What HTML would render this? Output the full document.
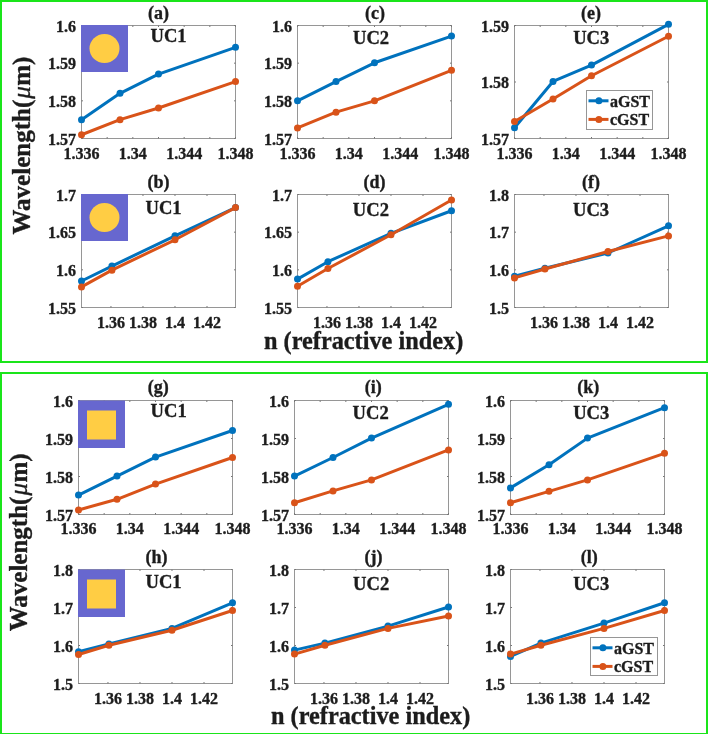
<!DOCTYPE html>
<html><head><meta charset="utf-8"><style>
html,body{margin:0;padding:0;background:#fff;width:708px;height:734px;overflow:hidden}
svg{display:block;will-change:transform;filter:blur(0.3px)}
text{font-family:"Liberation Serif", serif;font-weight:bold;fill:#1c1c1c;stroke:#1c1c1c;stroke-width:0.35px}
</style></head><body>
<svg width="708" height="734" viewBox="0 0 708 734">
<rect width="708" height="734" fill="#fff"/>
<rect x="81.5" y="25.5" width="154.0" height="113.0" fill="none" stroke="#969696" stroke-width="1"/>
<line x1="81.50" y1="138.5" x2="81.50" y2="137.0" stroke="#777" stroke-width="1"/>
<line x1="81.50" y1="25.5" x2="81.50" y2="27.0" stroke="#777" stroke-width="1"/>
<line x1="107.17" y1="138.5" x2="107.17" y2="137.0" stroke="#777" stroke-width="1"/>
<line x1="107.17" y1="25.5" x2="107.17" y2="27.0" stroke="#777" stroke-width="1"/>
<line x1="132.83" y1="138.5" x2="132.83" y2="137.0" stroke="#777" stroke-width="1"/>
<line x1="132.83" y1="25.5" x2="132.83" y2="27.0" stroke="#777" stroke-width="1"/>
<line x1="158.50" y1="138.5" x2="158.50" y2="137.0" stroke="#777" stroke-width="1"/>
<line x1="158.50" y1="25.5" x2="158.50" y2="27.0" stroke="#777" stroke-width="1"/>
<line x1="184.17" y1="138.5" x2="184.17" y2="137.0" stroke="#777" stroke-width="1"/>
<line x1="184.17" y1="25.5" x2="184.17" y2="27.0" stroke="#777" stroke-width="1"/>
<line x1="209.83" y1="138.5" x2="209.83" y2="137.0" stroke="#777" stroke-width="1"/>
<line x1="209.83" y1="25.5" x2="209.83" y2="27.0" stroke="#777" stroke-width="1"/>
<line x1="235.50" y1="138.5" x2="235.50" y2="137.0" stroke="#777" stroke-width="1"/>
<line x1="235.50" y1="25.5" x2="235.50" y2="27.0" stroke="#777" stroke-width="1"/>
<line x1="81.5" y1="138.50" x2="83.0" y2="138.50" stroke="#777" stroke-width="1"/>
<line x1="235.5" y1="138.50" x2="234.0" y2="138.50" stroke="#777" stroke-width="1"/>
<line x1="81.5" y1="100.83" x2="83.0" y2="100.83" stroke="#777" stroke-width="1"/>
<line x1="235.5" y1="100.83" x2="234.0" y2="100.83" stroke="#777" stroke-width="1"/>
<line x1="81.5" y1="63.17" x2="83.0" y2="63.17" stroke="#777" stroke-width="1"/>
<line x1="235.5" y1="63.17" x2="234.0" y2="63.17" stroke="#777" stroke-width="1"/>
<line x1="81.5" y1="25.50" x2="83.0" y2="25.50" stroke="#777" stroke-width="1"/>
<line x1="235.5" y1="25.50" x2="234.0" y2="25.50" stroke="#777" stroke-width="1"/>
<rect x="81.0" y="25.0" width="47" height="47" fill="#6767cf"/>
<ellipse cx="104.5" cy="48.5" rx="15" ry="14.5" fill="#ffcd44"/>
<text x="81.50" y="159.00" font-size="16" text-anchor="middle" >1.336</text>
<text x="132.83" y="159.00" font-size="16" text-anchor="middle" >1.34</text>
<text x="184.17" y="159.00" font-size="16" text-anchor="middle" >1.344</text>
<text x="235.50" y="159.00" font-size="16" text-anchor="middle" >1.348</text>
<text x="76.00" y="144.80" font-size="16" text-anchor="end" >1.57</text>
<text x="76.00" y="107.13" font-size="16" text-anchor="end" >1.58</text>
<text x="76.00" y="69.47" font-size="16" text-anchor="end" >1.59</text>
<text x="76.00" y="31.80" font-size="16" text-anchor="end" >1.6</text>
<polyline points="81.50,119.67 120.00,93.30 158.50,74.09 235.50,47.35" fill="none" stroke="#0072bd" stroke-width="3" stroke-linejoin="round"/>
<circle cx="81.50" cy="119.67" r="3.5" fill="#0072bd"/>
<circle cx="120.00" cy="93.30" r="3.5" fill="#0072bd"/>
<circle cx="158.50" cy="74.09" r="3.5" fill="#0072bd"/>
<circle cx="235.50" cy="47.35" r="3.5" fill="#0072bd"/>
<polyline points="81.50,134.73 120.00,119.67 158.50,107.99 235.50,81.62" fill="none" stroke="#d95319" stroke-width="3" stroke-linejoin="round"/>
<circle cx="81.50" cy="134.73" r="3.5" fill="#d95319"/>
<circle cx="120.00" cy="119.67" r="3.5" fill="#d95319"/>
<circle cx="158.50" cy="107.99" r="3.5" fill="#d95319"/>
<circle cx="235.50" cy="81.62" r="3.5" fill="#d95319"/>
<text x="158.50" y="18.80" font-size="18" text-anchor="middle" >(a)</text>
<text x="150.50" y="42.20" font-size="18.6" text-anchor="start" >UC1</text>
<rect x="81.5" y="194.5" width="154.0" height="113.0" fill="none" stroke="#969696" stroke-width="1"/>
<line x1="110.96" y1="307.5" x2="110.96" y2="306.0" stroke="#777" stroke-width="1"/>
<line x1="110.96" y1="194.5" x2="110.96" y2="196.0" stroke="#777" stroke-width="1"/>
<line x1="142.97" y1="307.5" x2="142.97" y2="306.0" stroke="#777" stroke-width="1"/>
<line x1="142.97" y1="194.5" x2="142.97" y2="196.0" stroke="#777" stroke-width="1"/>
<line x1="174.99" y1="307.5" x2="174.99" y2="306.0" stroke="#777" stroke-width="1"/>
<line x1="174.99" y1="194.5" x2="174.99" y2="196.0" stroke="#777" stroke-width="1"/>
<line x1="207.01" y1="307.5" x2="207.01" y2="306.0" stroke="#777" stroke-width="1"/>
<line x1="207.01" y1="194.5" x2="207.01" y2="196.0" stroke="#777" stroke-width="1"/>
<line x1="81.5" y1="307.50" x2="83.0" y2="307.50" stroke="#777" stroke-width="1"/>
<line x1="235.5" y1="307.50" x2="234.0" y2="307.50" stroke="#777" stroke-width="1"/>
<line x1="81.5" y1="269.83" x2="83.0" y2="269.83" stroke="#777" stroke-width="1"/>
<line x1="235.5" y1="269.83" x2="234.0" y2="269.83" stroke="#777" stroke-width="1"/>
<line x1="81.5" y1="232.17" x2="83.0" y2="232.17" stroke="#777" stroke-width="1"/>
<line x1="235.5" y1="232.17" x2="234.0" y2="232.17" stroke="#777" stroke-width="1"/>
<line x1="81.5" y1="194.50" x2="83.0" y2="194.50" stroke="#777" stroke-width="1"/>
<line x1="235.5" y1="194.50" x2="234.0" y2="194.50" stroke="#777" stroke-width="1"/>
<rect x="81.0" y="194.0" width="47" height="47" fill="#6767cf"/>
<ellipse cx="104.5" cy="217.5" rx="15" ry="14.5" fill="#ffcd44"/>
<text x="110.96" y="328.00" font-size="16" text-anchor="middle" >1.36</text>
<text x="142.97" y="328.00" font-size="16" text-anchor="middle" >1.38</text>
<text x="174.99" y="328.00" font-size="16" text-anchor="middle" >1.4</text>
<text x="207.01" y="328.00" font-size="16" text-anchor="middle" >1.42</text>
<text x="76.00" y="313.80" font-size="16" text-anchor="end" >1.55</text>
<text x="76.00" y="276.13" font-size="16" text-anchor="end" >1.6</text>
<text x="76.00" y="238.47" font-size="16" text-anchor="end" >1.65</text>
<text x="76.00" y="200.80" font-size="16" text-anchor="end" >1.7</text>
<polyline points="81.50,280.98 111.92,266.07 174.99,235.78 235.50,207.61" fill="none" stroke="#0072bd" stroke-width="3" stroke-linejoin="round"/>
<circle cx="81.50" cy="280.98" r="3.5" fill="#0072bd"/>
<circle cx="111.92" cy="266.07" r="3.5" fill="#0072bd"/>
<circle cx="174.99" cy="235.78" r="3.5" fill="#0072bd"/>
<circle cx="235.50" cy="207.61" r="3.5" fill="#0072bd"/>
<polyline points="81.50,286.93 111.92,270.13 174.99,239.78 235.50,207.61" fill="none" stroke="#d95319" stroke-width="3" stroke-linejoin="round"/>
<circle cx="81.50" cy="286.93" r="3.5" fill="#d95319"/>
<circle cx="111.92" cy="270.13" r="3.5" fill="#d95319"/>
<circle cx="174.99" cy="239.78" r="3.5" fill="#d95319"/>
<circle cx="235.50" cy="207.61" r="3.5" fill="#d95319"/>
<text x="158.50" y="188.30" font-size="18" text-anchor="middle" >(b)</text>
<text x="145.50" y="214.20" font-size="18.6" text-anchor="start" >UC1</text>
<rect x="297.5" y="25.5" width="154.0" height="113.0" fill="none" stroke="#969696" stroke-width="1"/>
<line x1="297.50" y1="138.5" x2="297.50" y2="137.0" stroke="#777" stroke-width="1"/>
<line x1="297.50" y1="25.5" x2="297.50" y2="27.0" stroke="#777" stroke-width="1"/>
<line x1="323.17" y1="138.5" x2="323.17" y2="137.0" stroke="#777" stroke-width="1"/>
<line x1="323.17" y1="25.5" x2="323.17" y2="27.0" stroke="#777" stroke-width="1"/>
<line x1="348.83" y1="138.5" x2="348.83" y2="137.0" stroke="#777" stroke-width="1"/>
<line x1="348.83" y1="25.5" x2="348.83" y2="27.0" stroke="#777" stroke-width="1"/>
<line x1="374.50" y1="138.5" x2="374.50" y2="137.0" stroke="#777" stroke-width="1"/>
<line x1="374.50" y1="25.5" x2="374.50" y2="27.0" stroke="#777" stroke-width="1"/>
<line x1="400.17" y1="138.5" x2="400.17" y2="137.0" stroke="#777" stroke-width="1"/>
<line x1="400.17" y1="25.5" x2="400.17" y2="27.0" stroke="#777" stroke-width="1"/>
<line x1="425.83" y1="138.5" x2="425.83" y2="137.0" stroke="#777" stroke-width="1"/>
<line x1="425.83" y1="25.5" x2="425.83" y2="27.0" stroke="#777" stroke-width="1"/>
<line x1="451.50" y1="138.5" x2="451.50" y2="137.0" stroke="#777" stroke-width="1"/>
<line x1="451.50" y1="25.5" x2="451.50" y2="27.0" stroke="#777" stroke-width="1"/>
<line x1="297.5" y1="138.50" x2="299.0" y2="138.50" stroke="#777" stroke-width="1"/>
<line x1="451.5" y1="138.50" x2="450.0" y2="138.50" stroke="#777" stroke-width="1"/>
<line x1="297.5" y1="100.83" x2="299.0" y2="100.83" stroke="#777" stroke-width="1"/>
<line x1="451.5" y1="100.83" x2="450.0" y2="100.83" stroke="#777" stroke-width="1"/>
<line x1="297.5" y1="63.17" x2="299.0" y2="63.17" stroke="#777" stroke-width="1"/>
<line x1="451.5" y1="63.17" x2="450.0" y2="63.17" stroke="#777" stroke-width="1"/>
<line x1="297.5" y1="25.50" x2="299.0" y2="25.50" stroke="#777" stroke-width="1"/>
<line x1="451.5" y1="25.50" x2="450.0" y2="25.50" stroke="#777" stroke-width="1"/>
<text x="297.50" y="159.00" font-size="16" text-anchor="middle" >1.336</text>
<text x="348.83" y="159.00" font-size="16" text-anchor="middle" >1.34</text>
<text x="400.17" y="159.00" font-size="16" text-anchor="middle" >1.344</text>
<text x="451.50" y="159.00" font-size="16" text-anchor="middle" >1.348</text>
<text x="292.00" y="144.80" font-size="16" text-anchor="end" >1.57</text>
<text x="292.00" y="107.13" font-size="16" text-anchor="end" >1.58</text>
<text x="292.00" y="69.47" font-size="16" text-anchor="end" >1.59</text>
<text x="292.00" y="31.80" font-size="16" text-anchor="end" >1.6</text>
<polyline points="297.50,100.83 336.00,81.62 374.50,62.79 451.50,36.05" fill="none" stroke="#0072bd" stroke-width="3" stroke-linejoin="round"/>
<circle cx="297.50" cy="100.83" r="3.5" fill="#0072bd"/>
<circle cx="336.00" cy="81.62" r="3.5" fill="#0072bd"/>
<circle cx="374.50" cy="62.79" r="3.5" fill="#0072bd"/>
<circle cx="451.50" cy="36.05" r="3.5" fill="#0072bd"/>
<polyline points="297.50,127.95 336.00,112.13 374.50,100.83 451.50,70.32" fill="none" stroke="#d95319" stroke-width="3" stroke-linejoin="round"/>
<circle cx="297.50" cy="127.95" r="3.5" fill="#d95319"/>
<circle cx="336.00" cy="112.13" r="3.5" fill="#d95319"/>
<circle cx="374.50" cy="100.83" r="3.5" fill="#d95319"/>
<circle cx="451.50" cy="70.32" r="3.5" fill="#d95319"/>
<text x="375.00" y="18.80" font-size="18" text-anchor="middle" >(c)</text>
<text x="353.00" y="44.20" font-size="18.6" text-anchor="start" >UC2</text>
<rect x="297.5" y="194.5" width="154.0" height="113.0" fill="none" stroke="#969696" stroke-width="1"/>
<line x1="326.96" y1="307.5" x2="326.96" y2="306.0" stroke="#777" stroke-width="1"/>
<line x1="326.96" y1="194.5" x2="326.96" y2="196.0" stroke="#777" stroke-width="1"/>
<line x1="358.97" y1="307.5" x2="358.97" y2="306.0" stroke="#777" stroke-width="1"/>
<line x1="358.97" y1="194.5" x2="358.97" y2="196.0" stroke="#777" stroke-width="1"/>
<line x1="390.99" y1="307.5" x2="390.99" y2="306.0" stroke="#777" stroke-width="1"/>
<line x1="390.99" y1="194.5" x2="390.99" y2="196.0" stroke="#777" stroke-width="1"/>
<line x1="423.01" y1="307.5" x2="423.01" y2="306.0" stroke="#777" stroke-width="1"/>
<line x1="423.01" y1="194.5" x2="423.01" y2="196.0" stroke="#777" stroke-width="1"/>
<line x1="297.5" y1="307.50" x2="299.0" y2="307.50" stroke="#777" stroke-width="1"/>
<line x1="451.5" y1="307.50" x2="450.0" y2="307.50" stroke="#777" stroke-width="1"/>
<line x1="297.5" y1="269.83" x2="299.0" y2="269.83" stroke="#777" stroke-width="1"/>
<line x1="451.5" y1="269.83" x2="450.0" y2="269.83" stroke="#777" stroke-width="1"/>
<line x1="297.5" y1="232.17" x2="299.0" y2="232.17" stroke="#777" stroke-width="1"/>
<line x1="451.5" y1="232.17" x2="450.0" y2="232.17" stroke="#777" stroke-width="1"/>
<line x1="297.5" y1="194.50" x2="299.0" y2="194.50" stroke="#777" stroke-width="1"/>
<line x1="451.5" y1="194.50" x2="450.0" y2="194.50" stroke="#777" stroke-width="1"/>
<text x="326.96" y="328.00" font-size="16" text-anchor="middle" >1.36</text>
<text x="358.97" y="328.00" font-size="16" text-anchor="middle" >1.38</text>
<text x="390.99" y="328.00" font-size="16" text-anchor="middle" >1.4</text>
<text x="423.01" y="328.00" font-size="16" text-anchor="middle" >1.42</text>
<text x="292.00" y="313.80" font-size="16" text-anchor="end" >1.55</text>
<text x="292.00" y="276.13" font-size="16" text-anchor="end" >1.6</text>
<text x="292.00" y="238.47" font-size="16" text-anchor="end" >1.65</text>
<text x="292.00" y="200.80" font-size="16" text-anchor="end" >1.7</text>
<polyline points="297.50,279.10 327.92,261.70 390.99,233.37 451.50,210.77" fill="none" stroke="#0072bd" stroke-width="3" stroke-linejoin="round"/>
<circle cx="297.50" cy="279.10" r="3.5" fill="#0072bd"/>
<circle cx="327.92" cy="261.70" r="3.5" fill="#0072bd"/>
<circle cx="390.99" cy="233.37" r="3.5" fill="#0072bd"/>
<circle cx="451.50" cy="210.77" r="3.5" fill="#0072bd"/>
<polyline points="297.50,286.18 327.92,268.48 390.99,234.80 451.50,200.00" fill="none" stroke="#d95319" stroke-width="3" stroke-linejoin="round"/>
<circle cx="297.50" cy="286.18" r="3.5" fill="#d95319"/>
<circle cx="327.92" cy="268.48" r="3.5" fill="#d95319"/>
<circle cx="390.99" cy="234.80" r="3.5" fill="#d95319"/>
<circle cx="451.50" cy="200.00" r="3.5" fill="#d95319"/>
<text x="374.60" y="188.30" font-size="18" text-anchor="middle" >(d)</text>
<text x="352.80" y="215.50" font-size="18.6" text-anchor="start" >UC2</text>
<rect x="514.5" y="25.5" width="154.0" height="113.0" fill="none" stroke="#969696" stroke-width="1"/>
<line x1="514.50" y1="138.5" x2="514.50" y2="137.0" stroke="#777" stroke-width="1"/>
<line x1="514.50" y1="25.5" x2="514.50" y2="27.0" stroke="#777" stroke-width="1"/>
<line x1="540.17" y1="138.5" x2="540.17" y2="137.0" stroke="#777" stroke-width="1"/>
<line x1="540.17" y1="25.5" x2="540.17" y2="27.0" stroke="#777" stroke-width="1"/>
<line x1="565.83" y1="138.5" x2="565.83" y2="137.0" stroke="#777" stroke-width="1"/>
<line x1="565.83" y1="25.5" x2="565.83" y2="27.0" stroke="#777" stroke-width="1"/>
<line x1="591.50" y1="138.5" x2="591.50" y2="137.0" stroke="#777" stroke-width="1"/>
<line x1="591.50" y1="25.5" x2="591.50" y2="27.0" stroke="#777" stroke-width="1"/>
<line x1="617.17" y1="138.5" x2="617.17" y2="137.0" stroke="#777" stroke-width="1"/>
<line x1="617.17" y1="25.5" x2="617.17" y2="27.0" stroke="#777" stroke-width="1"/>
<line x1="642.83" y1="138.5" x2="642.83" y2="137.0" stroke="#777" stroke-width="1"/>
<line x1="642.83" y1="25.5" x2="642.83" y2="27.0" stroke="#777" stroke-width="1"/>
<line x1="668.50" y1="138.5" x2="668.50" y2="137.0" stroke="#777" stroke-width="1"/>
<line x1="668.50" y1="25.5" x2="668.50" y2="27.0" stroke="#777" stroke-width="1"/>
<line x1="514.5" y1="138.50" x2="516.0" y2="138.50" stroke="#777" stroke-width="1"/>
<line x1="668.5" y1="138.50" x2="667.0" y2="138.50" stroke="#777" stroke-width="1"/>
<line x1="514.5" y1="82.00" x2="516.0" y2="82.00" stroke="#777" stroke-width="1"/>
<line x1="668.5" y1="82.00" x2="667.0" y2="82.00" stroke="#777" stroke-width="1"/>
<line x1="514.5" y1="25.50" x2="516.0" y2="25.50" stroke="#777" stroke-width="1"/>
<line x1="668.5" y1="25.50" x2="667.0" y2="25.50" stroke="#777" stroke-width="1"/>
<text x="514.50" y="159.00" font-size="16" text-anchor="middle" >1.336</text>
<text x="565.83" y="159.00" font-size="16" text-anchor="middle" >1.34</text>
<text x="617.17" y="159.00" font-size="16" text-anchor="middle" >1.344</text>
<text x="668.50" y="159.00" font-size="16" text-anchor="middle" >1.348</text>
<text x="509.00" y="144.80" font-size="16" text-anchor="end" >1.57</text>
<text x="509.00" y="88.30" font-size="16" text-anchor="end" >1.58</text>
<text x="509.00" y="31.80" font-size="16" text-anchor="end" >1.59</text>
<polyline points="514.50,127.76 553.00,81.44 591.50,65.05 668.50,24.37" fill="none" stroke="#0072bd" stroke-width="3" stroke-linejoin="round"/>
<circle cx="514.50" cy="127.76" r="3.5" fill="#0072bd"/>
<circle cx="553.00" cy="81.44" r="3.5" fill="#0072bd"/>
<circle cx="591.50" cy="65.05" r="3.5" fill="#0072bd"/>
<circle cx="668.50" cy="24.37" r="3.5" fill="#0072bd"/>
<polyline points="514.50,121.55 553.00,98.95 591.50,75.79 668.50,36.24" fill="none" stroke="#d95319" stroke-width="3" stroke-linejoin="round"/>
<circle cx="514.50" cy="121.55" r="3.5" fill="#d95319"/>
<circle cx="553.00" cy="98.95" r="3.5" fill="#d95319"/>
<circle cx="591.50" cy="75.79" r="3.5" fill="#d95319"/>
<circle cx="668.50" cy="36.24" r="3.5" fill="#d95319"/>
<rect x="586.5" y="90.5" width="66" height="39" fill="#fff" stroke="#969696" stroke-width="1"/>
<line x1="588.5" y1="100.8" x2="608.5" y2="100.8" stroke="#0072bd" stroke-width="3"/>
<circle cx="598.9" cy="100.8" r="3.5" fill="#0072bd"/>
<text x="610.00" y="106.60" font-size="16" text-anchor="start" >aGST</text>
<line x1="588.5" y1="119.4" x2="608.5" y2="119.4" stroke="#d95319" stroke-width="3"/>
<circle cx="598.9" cy="119.4" r="3.5" fill="#d95319"/>
<text x="610.00" y="125.20" font-size="16" text-anchor="start" >cGST</text>
<text x="591.00" y="18.80" font-size="18" text-anchor="middle" >(e)</text>
<text x="573.20" y="44.20" font-size="18.6" text-anchor="start" >UC3</text>
<rect x="514.5" y="194.5" width="154.0" height="113.0" fill="none" stroke="#969696" stroke-width="1"/>
<line x1="543.96" y1="307.5" x2="543.96" y2="306.0" stroke="#777" stroke-width="1"/>
<line x1="543.96" y1="194.5" x2="543.96" y2="196.0" stroke="#777" stroke-width="1"/>
<line x1="575.97" y1="307.5" x2="575.97" y2="306.0" stroke="#777" stroke-width="1"/>
<line x1="575.97" y1="194.5" x2="575.97" y2="196.0" stroke="#777" stroke-width="1"/>
<line x1="607.99" y1="307.5" x2="607.99" y2="306.0" stroke="#777" stroke-width="1"/>
<line x1="607.99" y1="194.5" x2="607.99" y2="196.0" stroke="#777" stroke-width="1"/>
<line x1="640.01" y1="307.5" x2="640.01" y2="306.0" stroke="#777" stroke-width="1"/>
<line x1="640.01" y1="194.5" x2="640.01" y2="196.0" stroke="#777" stroke-width="1"/>
<line x1="514.5" y1="307.50" x2="516.0" y2="307.50" stroke="#777" stroke-width="1"/>
<line x1="668.5" y1="307.50" x2="667.0" y2="307.50" stroke="#777" stroke-width="1"/>
<line x1="514.5" y1="269.83" x2="516.0" y2="269.83" stroke="#777" stroke-width="1"/>
<line x1="668.5" y1="269.83" x2="667.0" y2="269.83" stroke="#777" stroke-width="1"/>
<line x1="514.5" y1="232.17" x2="516.0" y2="232.17" stroke="#777" stroke-width="1"/>
<line x1="668.5" y1="232.17" x2="667.0" y2="232.17" stroke="#777" stroke-width="1"/>
<line x1="514.5" y1="194.50" x2="516.0" y2="194.50" stroke="#777" stroke-width="1"/>
<line x1="668.5" y1="194.50" x2="667.0" y2="194.50" stroke="#777" stroke-width="1"/>
<text x="543.96" y="328.00" font-size="16" text-anchor="middle" >1.36</text>
<text x="575.97" y="328.00" font-size="16" text-anchor="middle" >1.38</text>
<text x="607.99" y="328.00" font-size="16" text-anchor="middle" >1.4</text>
<text x="640.01" y="328.00" font-size="16" text-anchor="middle" >1.42</text>
<text x="509.00" y="313.80" font-size="16" text-anchor="end" >1.5</text>
<text x="509.00" y="276.13" font-size="16" text-anchor="end" >1.6</text>
<text x="509.00" y="238.47" font-size="16" text-anchor="end" >1.7</text>
<text x="509.00" y="200.80" font-size="16" text-anchor="end" >1.8</text>
<polyline points="514.50,276.20 544.92,268.29 607.99,253.00 668.50,225.80" fill="none" stroke="#0072bd" stroke-width="3" stroke-linejoin="round"/>
<circle cx="514.50" cy="276.20" r="3.5" fill="#0072bd"/>
<circle cx="544.92" cy="268.29" r="3.5" fill="#0072bd"/>
<circle cx="607.99" cy="253.00" r="3.5" fill="#0072bd"/>
<circle cx="668.50" cy="225.80" r="3.5" fill="#0072bd"/>
<polyline points="514.50,277.89 544.92,269.00 607.99,251.49 668.50,235.90" fill="none" stroke="#d95319" stroke-width="3" stroke-linejoin="round"/>
<circle cx="514.50" cy="277.89" r="3.5" fill="#d95319"/>
<circle cx="544.92" cy="269.00" r="3.5" fill="#d95319"/>
<circle cx="607.99" cy="251.49" r="3.5" fill="#d95319"/>
<circle cx="668.50" cy="235.90" r="3.5" fill="#d95319"/>
<text x="591.00" y="188.30" font-size="18" text-anchor="middle" >(f)</text>
<text x="573.00" y="215.50" font-size="18.6" text-anchor="start" >UC3</text>
<rect x="78.5" y="400.5" width="154.0" height="114.0" fill="none" stroke="#969696" stroke-width="1"/>
<line x1="78.50" y1="514.5" x2="78.50" y2="513.0" stroke="#777" stroke-width="1"/>
<line x1="78.50" y1="400.5" x2="78.50" y2="402.0" stroke="#777" stroke-width="1"/>
<line x1="104.17" y1="514.5" x2="104.17" y2="513.0" stroke="#777" stroke-width="1"/>
<line x1="104.17" y1="400.5" x2="104.17" y2="402.0" stroke="#777" stroke-width="1"/>
<line x1="129.83" y1="514.5" x2="129.83" y2="513.0" stroke="#777" stroke-width="1"/>
<line x1="129.83" y1="400.5" x2="129.83" y2="402.0" stroke="#777" stroke-width="1"/>
<line x1="155.50" y1="514.5" x2="155.50" y2="513.0" stroke="#777" stroke-width="1"/>
<line x1="155.50" y1="400.5" x2="155.50" y2="402.0" stroke="#777" stroke-width="1"/>
<line x1="181.17" y1="514.5" x2="181.17" y2="513.0" stroke="#777" stroke-width="1"/>
<line x1="181.17" y1="400.5" x2="181.17" y2="402.0" stroke="#777" stroke-width="1"/>
<line x1="206.83" y1="514.5" x2="206.83" y2="513.0" stroke="#777" stroke-width="1"/>
<line x1="206.83" y1="400.5" x2="206.83" y2="402.0" stroke="#777" stroke-width="1"/>
<line x1="232.50" y1="514.5" x2="232.50" y2="513.0" stroke="#777" stroke-width="1"/>
<line x1="232.50" y1="400.5" x2="232.50" y2="402.0" stroke="#777" stroke-width="1"/>
<line x1="78.5" y1="514.50" x2="80.0" y2="514.50" stroke="#777" stroke-width="1"/>
<line x1="232.5" y1="514.50" x2="231.0" y2="514.50" stroke="#777" stroke-width="1"/>
<line x1="78.5" y1="476.50" x2="80.0" y2="476.50" stroke="#777" stroke-width="1"/>
<line x1="232.5" y1="476.50" x2="231.0" y2="476.50" stroke="#777" stroke-width="1"/>
<line x1="78.5" y1="438.50" x2="80.0" y2="438.50" stroke="#777" stroke-width="1"/>
<line x1="232.5" y1="438.50" x2="231.0" y2="438.50" stroke="#777" stroke-width="1"/>
<line x1="78.5" y1="400.50" x2="80.0" y2="400.50" stroke="#777" stroke-width="1"/>
<line x1="232.5" y1="400.50" x2="231.0" y2="400.50" stroke="#777" stroke-width="1"/>
<rect x="78.0" y="400.5" width="47" height="47.5" fill="#6767cf"/>
<rect x="87.0" y="410.5" width="29" height="29" fill="#ffcd44"/>
<text x="78.50" y="534.00" font-size="16" text-anchor="middle" >1.336</text>
<text x="129.83" y="534.00" font-size="16" text-anchor="middle" >1.34</text>
<text x="181.17" y="534.00" font-size="16" text-anchor="middle" >1.344</text>
<text x="232.50" y="534.00" font-size="16" text-anchor="middle" >1.348</text>
<text x="73.00" y="520.80" font-size="16" text-anchor="end" >1.57</text>
<text x="73.00" y="482.80" font-size="16" text-anchor="end" >1.58</text>
<text x="73.00" y="444.80" font-size="16" text-anchor="end" >1.59</text>
<text x="73.00" y="406.80" font-size="16" text-anchor="end" >1.6</text>
<polyline points="78.50,495.12 117.00,476.12 155.50,457.12 232.50,430.52" fill="none" stroke="#0072bd" stroke-width="3" stroke-linejoin="round"/>
<circle cx="78.50" cy="495.12" r="3.5" fill="#0072bd"/>
<circle cx="117.00" cy="476.12" r="3.5" fill="#0072bd"/>
<circle cx="155.50" cy="457.12" r="3.5" fill="#0072bd"/>
<circle cx="232.50" cy="430.52" r="3.5" fill="#0072bd"/>
<polyline points="78.50,509.94 117.00,499.30 155.50,484.10 232.50,457.50" fill="none" stroke="#d95319" stroke-width="3" stroke-linejoin="round"/>
<circle cx="78.50" cy="509.94" r="3.5" fill="#d95319"/>
<circle cx="117.00" cy="499.30" r="3.5" fill="#d95319"/>
<circle cx="155.50" cy="484.10" r="3.5" fill="#d95319"/>
<circle cx="232.50" cy="457.50" r="3.5" fill="#d95319"/>
<text x="158.30" y="393.00" font-size="18" text-anchor="middle" >(g)</text>
<text x="150.60" y="416.60" font-size="18.6" text-anchor="start" >UC1</text>
<rect x="78.5" y="569.5" width="154.0" height="114.0" fill="none" stroke="#969696" stroke-width="1"/>
<line x1="107.96" y1="683.5" x2="107.96" y2="682.0" stroke="#777" stroke-width="1"/>
<line x1="107.96" y1="569.5" x2="107.96" y2="571.0" stroke="#777" stroke-width="1"/>
<line x1="139.97" y1="683.5" x2="139.97" y2="682.0" stroke="#777" stroke-width="1"/>
<line x1="139.97" y1="569.5" x2="139.97" y2="571.0" stroke="#777" stroke-width="1"/>
<line x1="171.99" y1="683.5" x2="171.99" y2="682.0" stroke="#777" stroke-width="1"/>
<line x1="171.99" y1="569.5" x2="171.99" y2="571.0" stroke="#777" stroke-width="1"/>
<line x1="204.01" y1="683.5" x2="204.01" y2="682.0" stroke="#777" stroke-width="1"/>
<line x1="204.01" y1="569.5" x2="204.01" y2="571.0" stroke="#777" stroke-width="1"/>
<line x1="78.5" y1="683.50" x2="80.0" y2="683.50" stroke="#777" stroke-width="1"/>
<line x1="232.5" y1="683.50" x2="231.0" y2="683.50" stroke="#777" stroke-width="1"/>
<line x1="78.5" y1="645.50" x2="80.0" y2="645.50" stroke="#777" stroke-width="1"/>
<line x1="232.5" y1="645.50" x2="231.0" y2="645.50" stroke="#777" stroke-width="1"/>
<line x1="78.5" y1="607.50" x2="80.0" y2="607.50" stroke="#777" stroke-width="1"/>
<line x1="232.5" y1="607.50" x2="231.0" y2="607.50" stroke="#777" stroke-width="1"/>
<line x1="78.5" y1="569.50" x2="80.0" y2="569.50" stroke="#777" stroke-width="1"/>
<line x1="232.5" y1="569.50" x2="231.0" y2="569.50" stroke="#777" stroke-width="1"/>
<rect x="78.0" y="569.5" width="47" height="47.5" fill="#6767cf"/>
<rect x="87.0" y="579.5" width="29" height="29" fill="#ffcd44"/>
<text x="107.96" y="704.00" font-size="16" text-anchor="middle" >1.36</text>
<text x="139.97" y="704.00" font-size="16" text-anchor="middle" >1.38</text>
<text x="171.99" y="704.00" font-size="16" text-anchor="middle" >1.4</text>
<text x="204.01" y="704.00" font-size="16" text-anchor="middle" >1.42</text>
<text x="73.00" y="689.80" font-size="16" text-anchor="end" >1.5</text>
<text x="73.00" y="651.80" font-size="16" text-anchor="end" >1.6</text>
<text x="73.00" y="613.80" font-size="16" text-anchor="end" >1.7</text>
<text x="73.00" y="575.80" font-size="16" text-anchor="end" >1.8</text>
<polyline points="78.50,651.69 108.92,644.02 171.99,628.40 232.50,602.79" fill="none" stroke="#0072bd" stroke-width="3" stroke-linejoin="round"/>
<circle cx="78.50" cy="651.69" r="3.5" fill="#0072bd"/>
<circle cx="108.92" cy="644.02" r="3.5" fill="#0072bd"/>
<circle cx="171.99" cy="628.40" r="3.5" fill="#0072bd"/>
<circle cx="232.50" cy="602.79" r="3.5" fill="#0072bd"/>
<polyline points="78.50,654.51 108.92,645.20 171.99,630.30 232.50,610.50" fill="none" stroke="#d95319" stroke-width="3" stroke-linejoin="round"/>
<circle cx="78.50" cy="654.51" r="3.5" fill="#d95319"/>
<circle cx="108.92" cy="645.20" r="3.5" fill="#d95319"/>
<circle cx="171.99" cy="630.30" r="3.5" fill="#d95319"/>
<circle cx="232.50" cy="610.50" r="3.5" fill="#d95319"/>
<text x="156.40" y="562.70" font-size="18" text-anchor="middle" >(h)</text>
<text x="145.50" y="588.30" font-size="18.6" text-anchor="start" >UC1</text>
<rect x="294.5" y="400.5" width="154.0" height="114.0" fill="none" stroke="#969696" stroke-width="1"/>
<line x1="294.50" y1="514.5" x2="294.50" y2="513.0" stroke="#777" stroke-width="1"/>
<line x1="294.50" y1="400.5" x2="294.50" y2="402.0" stroke="#777" stroke-width="1"/>
<line x1="320.17" y1="514.5" x2="320.17" y2="513.0" stroke="#777" stroke-width="1"/>
<line x1="320.17" y1="400.5" x2="320.17" y2="402.0" stroke="#777" stroke-width="1"/>
<line x1="345.83" y1="514.5" x2="345.83" y2="513.0" stroke="#777" stroke-width="1"/>
<line x1="345.83" y1="400.5" x2="345.83" y2="402.0" stroke="#777" stroke-width="1"/>
<line x1="371.50" y1="514.5" x2="371.50" y2="513.0" stroke="#777" stroke-width="1"/>
<line x1="371.50" y1="400.5" x2="371.50" y2="402.0" stroke="#777" stroke-width="1"/>
<line x1="397.17" y1="514.5" x2="397.17" y2="513.0" stroke="#777" stroke-width="1"/>
<line x1="397.17" y1="400.5" x2="397.17" y2="402.0" stroke="#777" stroke-width="1"/>
<line x1="422.83" y1="514.5" x2="422.83" y2="513.0" stroke="#777" stroke-width="1"/>
<line x1="422.83" y1="400.5" x2="422.83" y2="402.0" stroke="#777" stroke-width="1"/>
<line x1="448.50" y1="514.5" x2="448.50" y2="513.0" stroke="#777" stroke-width="1"/>
<line x1="448.50" y1="400.5" x2="448.50" y2="402.0" stroke="#777" stroke-width="1"/>
<line x1="294.5" y1="514.50" x2="296.0" y2="514.50" stroke="#777" stroke-width="1"/>
<line x1="448.5" y1="514.50" x2="447.0" y2="514.50" stroke="#777" stroke-width="1"/>
<line x1="294.5" y1="476.50" x2="296.0" y2="476.50" stroke="#777" stroke-width="1"/>
<line x1="448.5" y1="476.50" x2="447.0" y2="476.50" stroke="#777" stroke-width="1"/>
<line x1="294.5" y1="438.50" x2="296.0" y2="438.50" stroke="#777" stroke-width="1"/>
<line x1="448.5" y1="438.50" x2="447.0" y2="438.50" stroke="#777" stroke-width="1"/>
<line x1="294.5" y1="400.50" x2="296.0" y2="400.50" stroke="#777" stroke-width="1"/>
<line x1="448.5" y1="400.50" x2="447.0" y2="400.50" stroke="#777" stroke-width="1"/>
<text x="294.50" y="534.00" font-size="16" text-anchor="middle" >1.336</text>
<text x="345.83" y="534.00" font-size="16" text-anchor="middle" >1.34</text>
<text x="397.17" y="534.00" font-size="16" text-anchor="middle" >1.344</text>
<text x="448.50" y="534.00" font-size="16" text-anchor="middle" >1.348</text>
<text x="289.00" y="520.80" font-size="16" text-anchor="end" >1.57</text>
<text x="289.00" y="482.80" font-size="16" text-anchor="end" >1.58</text>
<text x="289.00" y="444.80" font-size="16" text-anchor="end" >1.59</text>
<text x="289.00" y="406.80" font-size="16" text-anchor="end" >1.6</text>
<polyline points="294.50,476.12 333.00,457.50 371.50,438.12 448.50,404.30" fill="none" stroke="#0072bd" stroke-width="3" stroke-linejoin="round"/>
<circle cx="294.50" cy="476.12" r="3.5" fill="#0072bd"/>
<circle cx="333.00" cy="457.50" r="3.5" fill="#0072bd"/>
<circle cx="371.50" cy="438.12" r="3.5" fill="#0072bd"/>
<circle cx="448.50" cy="404.30" r="3.5" fill="#0072bd"/>
<polyline points="294.50,502.72 333.00,490.94 371.50,479.92 448.50,449.90" fill="none" stroke="#d95319" stroke-width="3" stroke-linejoin="round"/>
<circle cx="294.50" cy="502.72" r="3.5" fill="#d95319"/>
<circle cx="333.00" cy="490.94" r="3.5" fill="#d95319"/>
<circle cx="371.50" cy="479.92" r="3.5" fill="#d95319"/>
<circle cx="448.50" cy="449.90" r="3.5" fill="#d95319"/>
<text x="373.30" y="393.00" font-size="18" text-anchor="middle" >(i)</text>
<text x="352.60" y="419.10" font-size="18.6" text-anchor="start" >UC2</text>
<rect x="294.5" y="569.5" width="154.0" height="114.0" fill="none" stroke="#969696" stroke-width="1"/>
<line x1="323.96" y1="683.5" x2="323.96" y2="682.0" stroke="#777" stroke-width="1"/>
<line x1="323.96" y1="569.5" x2="323.96" y2="571.0" stroke="#777" stroke-width="1"/>
<line x1="355.97" y1="683.5" x2="355.97" y2="682.0" stroke="#777" stroke-width="1"/>
<line x1="355.97" y1="569.5" x2="355.97" y2="571.0" stroke="#777" stroke-width="1"/>
<line x1="387.99" y1="683.5" x2="387.99" y2="682.0" stroke="#777" stroke-width="1"/>
<line x1="387.99" y1="569.5" x2="387.99" y2="571.0" stroke="#777" stroke-width="1"/>
<line x1="420.01" y1="683.5" x2="420.01" y2="682.0" stroke="#777" stroke-width="1"/>
<line x1="420.01" y1="569.5" x2="420.01" y2="571.0" stroke="#777" stroke-width="1"/>
<line x1="294.5" y1="683.50" x2="296.0" y2="683.50" stroke="#777" stroke-width="1"/>
<line x1="448.5" y1="683.50" x2="447.0" y2="683.50" stroke="#777" stroke-width="1"/>
<line x1="294.5" y1="645.50" x2="296.0" y2="645.50" stroke="#777" stroke-width="1"/>
<line x1="448.5" y1="645.50" x2="447.0" y2="645.50" stroke="#777" stroke-width="1"/>
<line x1="294.5" y1="607.50" x2="296.0" y2="607.50" stroke="#777" stroke-width="1"/>
<line x1="448.5" y1="607.50" x2="447.0" y2="607.50" stroke="#777" stroke-width="1"/>
<line x1="294.5" y1="569.50" x2="296.0" y2="569.50" stroke="#777" stroke-width="1"/>
<line x1="448.5" y1="569.50" x2="447.0" y2="569.50" stroke="#777" stroke-width="1"/>
<text x="323.96" y="704.00" font-size="16" text-anchor="middle" >1.36</text>
<text x="355.97" y="704.00" font-size="16" text-anchor="middle" >1.38</text>
<text x="387.99" y="704.00" font-size="16" text-anchor="middle" >1.4</text>
<text x="420.01" y="704.00" font-size="16" text-anchor="middle" >1.42</text>
<text x="289.00" y="689.80" font-size="16" text-anchor="end" >1.5</text>
<text x="289.00" y="651.80" font-size="16" text-anchor="end" >1.6</text>
<text x="289.00" y="613.80" font-size="16" text-anchor="end" >1.7</text>
<text x="289.00" y="575.80" font-size="16" text-anchor="end" >1.8</text>
<polyline points="294.50,650.10 324.92,643.11 387.99,626.08 448.50,607.01" fill="none" stroke="#0072bd" stroke-width="3" stroke-linejoin="round"/>
<circle cx="294.50" cy="650.10" r="3.5" fill="#0072bd"/>
<circle cx="324.92" cy="643.11" r="3.5" fill="#0072bd"/>
<circle cx="387.99" cy="626.08" r="3.5" fill="#0072bd"/>
<circle cx="448.50" cy="607.01" r="3.5" fill="#0072bd"/>
<polyline points="294.50,654.09 324.92,645.20 387.99,628.40 448.50,616.09" fill="none" stroke="#d95319" stroke-width="3" stroke-linejoin="round"/>
<circle cx="294.50" cy="654.09" r="3.5" fill="#d95319"/>
<circle cx="324.92" cy="645.20" r="3.5" fill="#d95319"/>
<circle cx="387.99" cy="628.40" r="3.5" fill="#d95319"/>
<circle cx="448.50" cy="616.09" r="3.5" fill="#d95319"/>
<text x="373.60" y="562.70" font-size="18" text-anchor="middle" >(j)</text>
<text x="353.10" y="590.00" font-size="18.6" text-anchor="start" >UC2</text>
<rect x="510.5" y="400.5" width="154.0" height="114.0" fill="none" stroke="#969696" stroke-width="1"/>
<line x1="510.50" y1="514.5" x2="510.50" y2="513.0" stroke="#777" stroke-width="1"/>
<line x1="510.50" y1="400.5" x2="510.50" y2="402.0" stroke="#777" stroke-width="1"/>
<line x1="536.17" y1="514.5" x2="536.17" y2="513.0" stroke="#777" stroke-width="1"/>
<line x1="536.17" y1="400.5" x2="536.17" y2="402.0" stroke="#777" stroke-width="1"/>
<line x1="561.83" y1="514.5" x2="561.83" y2="513.0" stroke="#777" stroke-width="1"/>
<line x1="561.83" y1="400.5" x2="561.83" y2="402.0" stroke="#777" stroke-width="1"/>
<line x1="587.50" y1="514.5" x2="587.50" y2="513.0" stroke="#777" stroke-width="1"/>
<line x1="587.50" y1="400.5" x2="587.50" y2="402.0" stroke="#777" stroke-width="1"/>
<line x1="613.17" y1="514.5" x2="613.17" y2="513.0" stroke="#777" stroke-width="1"/>
<line x1="613.17" y1="400.5" x2="613.17" y2="402.0" stroke="#777" stroke-width="1"/>
<line x1="638.83" y1="514.5" x2="638.83" y2="513.0" stroke="#777" stroke-width="1"/>
<line x1="638.83" y1="400.5" x2="638.83" y2="402.0" stroke="#777" stroke-width="1"/>
<line x1="664.50" y1="514.5" x2="664.50" y2="513.0" stroke="#777" stroke-width="1"/>
<line x1="664.50" y1="400.5" x2="664.50" y2="402.0" stroke="#777" stroke-width="1"/>
<line x1="510.5" y1="514.50" x2="512.0" y2="514.50" stroke="#777" stroke-width="1"/>
<line x1="664.5" y1="514.50" x2="663.0" y2="514.50" stroke="#777" stroke-width="1"/>
<line x1="510.5" y1="476.50" x2="512.0" y2="476.50" stroke="#777" stroke-width="1"/>
<line x1="664.5" y1="476.50" x2="663.0" y2="476.50" stroke="#777" stroke-width="1"/>
<line x1="510.5" y1="438.50" x2="512.0" y2="438.50" stroke="#777" stroke-width="1"/>
<line x1="664.5" y1="438.50" x2="663.0" y2="438.50" stroke="#777" stroke-width="1"/>
<line x1="510.5" y1="400.50" x2="512.0" y2="400.50" stroke="#777" stroke-width="1"/>
<line x1="664.5" y1="400.50" x2="663.0" y2="400.50" stroke="#777" stroke-width="1"/>
<text x="510.50" y="534.00" font-size="16" text-anchor="middle" >1.336</text>
<text x="561.83" y="534.00" font-size="16" text-anchor="middle" >1.34</text>
<text x="613.17" y="534.00" font-size="16" text-anchor="middle" >1.344</text>
<text x="664.50" y="534.00" font-size="16" text-anchor="middle" >1.348</text>
<text x="505.00" y="520.80" font-size="16" text-anchor="end" >1.57</text>
<text x="505.00" y="482.80" font-size="16" text-anchor="end" >1.58</text>
<text x="505.00" y="444.80" font-size="16" text-anchor="end" >1.59</text>
<text x="505.00" y="406.80" font-size="16" text-anchor="end" >1.6</text>
<polyline points="510.50,487.90 549.00,464.72 587.50,438.12 664.50,407.72" fill="none" stroke="#0072bd" stroke-width="3" stroke-linejoin="round"/>
<circle cx="510.50" cy="487.90" r="3.5" fill="#0072bd"/>
<circle cx="549.00" cy="464.72" r="3.5" fill="#0072bd"/>
<circle cx="587.50" cy="438.12" r="3.5" fill="#0072bd"/>
<circle cx="664.50" cy="407.72" r="3.5" fill="#0072bd"/>
<polyline points="510.50,502.72 549.00,491.32 587.50,479.92 664.50,453.32" fill="none" stroke="#d95319" stroke-width="3" stroke-linejoin="round"/>
<circle cx="510.50" cy="502.72" r="3.5" fill="#d95319"/>
<circle cx="549.00" cy="491.32" r="3.5" fill="#d95319"/>
<circle cx="587.50" cy="479.92" r="3.5" fill="#d95319"/>
<circle cx="664.50" cy="453.32" r="3.5" fill="#d95319"/>
<text x="588.20" y="393.00" font-size="18" text-anchor="middle" >(k)</text>
<text x="573.20" y="419.10" font-size="18.6" text-anchor="start" >UC3</text>
<rect x="510.5" y="569.5" width="154.0" height="114.0" fill="none" stroke="#969696" stroke-width="1"/>
<line x1="539.96" y1="683.5" x2="539.96" y2="682.0" stroke="#777" stroke-width="1"/>
<line x1="539.96" y1="569.5" x2="539.96" y2="571.0" stroke="#777" stroke-width="1"/>
<line x1="571.97" y1="683.5" x2="571.97" y2="682.0" stroke="#777" stroke-width="1"/>
<line x1="571.97" y1="569.5" x2="571.97" y2="571.0" stroke="#777" stroke-width="1"/>
<line x1="603.99" y1="683.5" x2="603.99" y2="682.0" stroke="#777" stroke-width="1"/>
<line x1="603.99" y1="569.5" x2="603.99" y2="571.0" stroke="#777" stroke-width="1"/>
<line x1="636.01" y1="683.5" x2="636.01" y2="682.0" stroke="#777" stroke-width="1"/>
<line x1="636.01" y1="569.5" x2="636.01" y2="571.0" stroke="#777" stroke-width="1"/>
<line x1="510.5" y1="683.50" x2="512.0" y2="683.50" stroke="#777" stroke-width="1"/>
<line x1="664.5" y1="683.50" x2="663.0" y2="683.50" stroke="#777" stroke-width="1"/>
<line x1="510.5" y1="645.50" x2="512.0" y2="645.50" stroke="#777" stroke-width="1"/>
<line x1="664.5" y1="645.50" x2="663.0" y2="645.50" stroke="#777" stroke-width="1"/>
<line x1="510.5" y1="607.50" x2="512.0" y2="607.50" stroke="#777" stroke-width="1"/>
<line x1="664.5" y1="607.50" x2="663.0" y2="607.50" stroke="#777" stroke-width="1"/>
<line x1="510.5" y1="569.50" x2="512.0" y2="569.50" stroke="#777" stroke-width="1"/>
<line x1="664.5" y1="569.50" x2="663.0" y2="569.50" stroke="#777" stroke-width="1"/>
<text x="539.96" y="704.00" font-size="16" text-anchor="middle" >1.36</text>
<text x="571.97" y="704.00" font-size="16" text-anchor="middle" >1.38</text>
<text x="603.99" y="704.00" font-size="16" text-anchor="middle" >1.4</text>
<text x="636.01" y="704.00" font-size="16" text-anchor="middle" >1.42</text>
<text x="505.00" y="689.80" font-size="16" text-anchor="end" >1.5</text>
<text x="505.00" y="651.80" font-size="16" text-anchor="end" >1.6</text>
<text x="505.00" y="613.80" font-size="16" text-anchor="end" >1.7</text>
<text x="505.00" y="575.80" font-size="16" text-anchor="end" >1.8</text>
<polyline points="510.50,656.41 540.92,643.11 603.99,623.12 664.50,602.79" fill="none" stroke="#0072bd" stroke-width="3" stroke-linejoin="round"/>
<circle cx="510.50" cy="656.41" r="3.5" fill="#0072bd"/>
<circle cx="540.92" cy="643.11" r="3.5" fill="#0072bd"/>
<circle cx="603.99" cy="623.12" r="3.5" fill="#0072bd"/>
<circle cx="664.50" cy="602.79" r="3.5" fill="#0072bd"/>
<polyline points="510.50,654.09 540.92,645.20 603.99,628.40 664.50,610.50" fill="none" stroke="#d95319" stroke-width="3" stroke-linejoin="round"/>
<circle cx="510.50" cy="654.09" r="3.5" fill="#d95319"/>
<circle cx="540.92" cy="645.20" r="3.5" fill="#d95319"/>
<circle cx="603.99" cy="628.40" r="3.5" fill="#d95319"/>
<circle cx="664.50" cy="610.50" r="3.5" fill="#d95319"/>
<rect x="590.5" y="637.5" width="67" height="38" fill="#fff" stroke="#969696" stroke-width="1"/>
<line x1="592.5" y1="647.8" x2="612.5" y2="647.8" stroke="#0072bd" stroke-width="3"/>
<circle cx="602.9" cy="647.8" r="3.5" fill="#0072bd"/>
<text x="614.00" y="653.60" font-size="16" text-anchor="start" >aGST</text>
<line x1="592.5" y1="666.4" x2="612.5" y2="666.4" stroke="#d95319" stroke-width="3"/>
<circle cx="602.9" cy="666.4" r="3.5" fill="#d95319"/>
<text x="614.00" y="672.20" font-size="16" text-anchor="start" >cGST</text>
<text x="589.30" y="562.70" font-size="18" text-anchor="middle" >(l)</text>
<text x="573.20" y="590.00" font-size="18.6" text-anchor="start" >UC3</text>
<text transform="translate(30,234.5) rotate(-90)" font-size="25" text-anchor="start">Wavelength(<tspan font-style="italic" font-weight="normal" dx="1">μ</tspan><tspan dx="0.5">m</tspan>)</text>
<text transform="translate(26.6,631.3) rotate(-90)" font-size="25" text-anchor="start">Wavelength(<tspan font-style="italic" font-weight="normal" dx="1">μ</tspan><tspan dx="0.5">m</tspan>)</text>
<text x="264.00" y="349.20" font-size="24.3" text-anchor="start" >n (refractive index)</text>
<text x="271.00" y="723.80" font-size="24.3" text-anchor="start" >n (refractive index)</text>
<rect x="1" y="1" width="706" height="361" fill="none" stroke="#1ae51a" stroke-width="2"/>
<rect x="1" y="373" width="706" height="361" fill="none" stroke="#1ae51a" stroke-width="2"/>
</svg></body></html>
